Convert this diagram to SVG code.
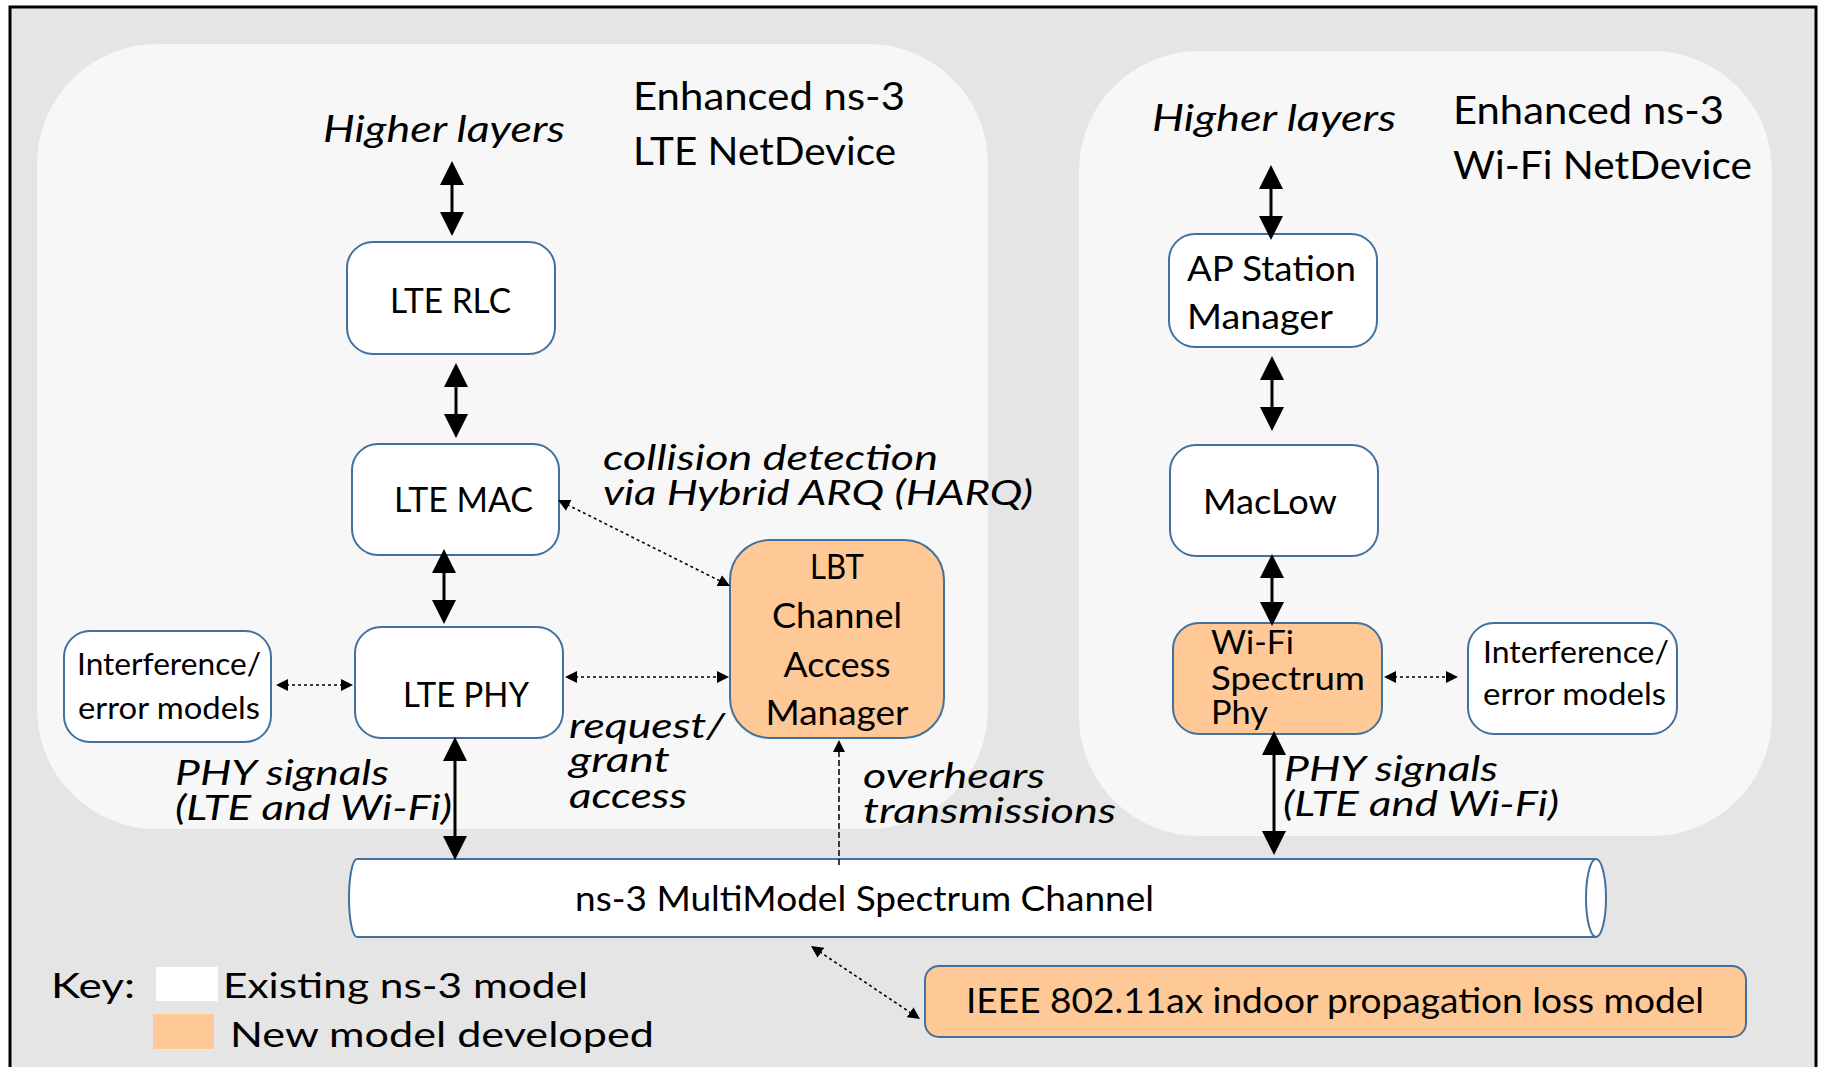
<svg xmlns="http://www.w3.org/2000/svg" width="1822" height="1067" viewBox="0 0 1822 1067">
<style>
.t{font-family:Lato,'Open Sans','Liberation Sans',sans-serif;fill:#000}
.i{font-style:italic}
.box{fill:#fff;stroke:#41719c;stroke-width:2}
.new{fill:#fec996;stroke:#41719c;stroke-width:2}
.cont{fill:#f7f7f7}
.solid{stroke:#000;stroke-width:3;fill:none}
.dot{stroke:#000;stroke-width:1.6;stroke-dasharray:3 3;fill:none}
.dash{stroke:#000;stroke-width:1.5;stroke-dasharray:6 3;fill:none}
</style>
<defs>
<marker id="ah" viewBox="0 0 24 24" markerWidth="24" markerHeight="24" refX="4" refY="12" orient="auto-start-reverse" markerUnits="userSpaceOnUse"><path d="M0,0 L24,12 L0,24 z" fill="#000"/></marker>
<marker id="sh" viewBox="0 0 12 12" markerWidth="12" markerHeight="12" refX="2" refY="6" orient="auto-start-reverse" markerUnits="userSpaceOnUse"><path d="M0,0 L12,6 L0,12 z" fill="#000"/></marker>
</defs>
<rect x="0" y="0" width="1822" height="1067" fill="#fff"/>
<rect x="10" y="7" width="1806" height="1090" fill="#e5e5e5" stroke="#000" stroke-width="3"/>

<g id="lte-container">
<rect class="cont" x="37" y="44" width="951" height="785" rx="120" ry="120"/>
<text class="t i" x="323" y="142" font-size="36" textLength="242" lengthAdjust="spacingAndGlyphs">Higher layers</text>
<text class="t" x="633" y="110" font-size="38" textLength="272" lengthAdjust="spacingAndGlyphs">Enhanced ns-3</text>
<text class="t" x="633" y="165" font-size="38" textLength="263" lengthAdjust="spacingAndGlyphs">LTE NetDevice</text>
</g>
<g id="wifi-container">
<rect class="cont" x="1079" y="51" width="693" height="785" rx="120" ry="120"/>
<text class="t i" x="1152" y="131" font-size="36" textLength="244" lengthAdjust="spacingAndGlyphs">Higher layers</text>
<text class="t" x="1453" y="124" font-size="38" textLength="271" lengthAdjust="spacingAndGlyphs">Enhanced ns-3</text>
<text class="t" x="1453" y="179" font-size="38" textLength="299" lengthAdjust="spacingAndGlyphs">Wi-Fi NetDevice</text>
</g>

<g id="lte-rlc">
<rect class="box" x="347" y="242" width="208" height="112" rx="26"/>
<text class="t" x="390" y="313" font-size="34" textLength="121" lengthAdjust="spacingAndGlyphs">LTE RLC</text>
</g>
<g id="lte-mac">
<rect class="box" x="352" y="444" width="207" height="111" rx="26"/>
<text class="t" x="394" y="512" font-size="34" textLength="139" lengthAdjust="spacingAndGlyphs">LTE MAC</text>
</g>
<g id="lte-phy">
<rect class="box" x="355" y="627" width="208" height="111" rx="26"/>
<text class="t" x="403" y="707" font-size="34" textLength="126" lengthAdjust="spacingAndGlyphs">LTE PHY</text>
</g>
<g id="lte-interference">
<rect class="box" x="64" y="631" width="207" height="111" rx="26"/>
<text class="t" x="77" y="675" font-size="30" textLength="184" lengthAdjust="spacingAndGlyphs">Interference/</text>
<text class="t" x="78" y="719" font-size="30" textLength="182" lengthAdjust="spacingAndGlyphs">error models</text>
</g>
<g id="lbt">
<rect class="new" x="730" y="540" width="214" height="198" rx="40"/>
<text class="t" x="837" y="579" font-size="34" text-anchor="middle" textLength="54" lengthAdjust="spacingAndGlyphs">LBT</text>
<text class="t" x="837" y="628" font-size="34" text-anchor="middle" textLength="130" lengthAdjust="spacingAndGlyphs">Channel</text>
<text class="t" x="837" y="677" font-size="34" text-anchor="middle" textLength="107" lengthAdjust="spacingAndGlyphs">Access</text>
<text class="t" x="837" y="725" font-size="34" text-anchor="middle" textLength="143" lengthAdjust="spacingAndGlyphs">Manager</text>
</g>

<g id="ap-station-manager">
<rect class="box" x="1169" y="234" width="208" height="113" rx="26"/>
<text class="t" x="1187" y="281" font-size="34" textLength="169" lengthAdjust="spacingAndGlyphs">AP Station</text>
<text class="t" x="1187" y="329" font-size="34" textLength="146" lengthAdjust="spacingAndGlyphs">Manager</text>
</g>
<g id="maclow">
<rect class="box" x="1170" y="445" width="208" height="111" rx="26"/>
<text class="t" x="1203" y="514" font-size="34" textLength="134" lengthAdjust="spacingAndGlyphs">MacLow</text>
</g>
<g id="wifi-spectrum-phy">
<rect class="new" x="1173" y="623" width="209" height="111" rx="26"/>
<text class="t" x="1211" y="654" font-size="32" textLength="83" lengthAdjust="spacingAndGlyphs">Wi-Fi</text>
<text class="t" x="1211" y="690" font-size="32" textLength="154" lengthAdjust="spacingAndGlyphs">Spectrum</text>
<text class="t" x="1211" y="724" font-size="32" textLength="57" lengthAdjust="spacingAndGlyphs">Phy</text>
</g>
<g id="wifi-interference">
<rect class="box" x="1468" y="623" width="209" height="111" rx="26"/>
<text class="t" x="1483" y="663" font-size="30" textLength="186" lengthAdjust="spacingAndGlyphs">Interference/</text>
<text class="t" x="1483" y="705" font-size="30" textLength="183" lengthAdjust="spacingAndGlyphs">error models</text>
</g>

<g id="channel">
<path class="box" d="M357,859 H1596 V937 H357 A8,39 0 0 1 357,859 Z"/>
<ellipse class="box" cx="1596" cy="898" rx="10" ry="39"/>
<text class="t" x="575" y="911" font-size="35" textLength="579" lengthAdjust="spacingAndGlyphs">ns-3 MultiModel Spectrum Channel</text>
</g>
<g id="ieee-loss-model">
<rect class="new" x="925" y="966" width="821" height="71" rx="14"/>
<text class="t" x="966" y="1013" font-size="35" textLength="738" lengthAdjust="spacingAndGlyphs">IEEE 802.11ax indoor propagation loss model</text>
</g>

<g id="connectors">
<line class="solid" x1="452" y1="181" x2="452" y2="216" marker-start="url(#ah)" marker-end="url(#ah)"/>
<line class="solid" x1="456" y1="383" x2="456" y2="418" marker-start="url(#ah)" marker-end="url(#ah)"/>
<line class="solid" x1="444" y1="569" x2="444" y2="604" marker-start="url(#ah)" marker-end="url(#ah)"/>
<line class="solid" x1="455" y1="757" x2="455" y2="840" marker-start="url(#ah)" marker-end="url(#ah)"/>
<line class="solid" x1="1271" y1="185" x2="1271" y2="220" marker-start="url(#ah)" marker-end="url(#ah)"/>
<line class="solid" x1="1272" y1="376" x2="1272" y2="411" marker-start="url(#ah)" marker-end="url(#ah)"/>
<line class="solid" x1="1272" y1="574" x2="1272" y2="606" marker-start="url(#ah)" marker-end="url(#ah)"/>
<line class="solid" x1="1274" y1="751" x2="1274" y2="835" marker-start="url(#ah)" marker-end="url(#ah)"/>
<line class="dot" x1="286" y1="685" x2="343" y2="685" marker-start="url(#sh)" marker-end="url(#sh)"/>
<line class="dot" x1="575" y1="677" x2="719" y2="677" marker-start="url(#sh)" marker-end="url(#sh)"/>
<line class="dot" x1="566.9" y1="504.5" x2="721.1" y2="581.5" marker-start="url(#sh)" marker-end="url(#sh)"/>
<line class="dot" x1="1394" y1="677" x2="1448" y2="677" marker-start="url(#sh)" marker-end="url(#sh)"/>
<line class="dot" x1="819.3" y1="951.6" x2="911.7" y2="1013.4" marker-start="url(#sh)" marker-end="url(#sh)"/>
<line class="dash" x1="839" y1="865" x2="839" y2="750" marker-end="url(#sh)"/>
</g>

<g id="labels">
<text class="t i" x="603" y="470" font-size="34" textLength="335" lengthAdjust="spacingAndGlyphs">collision detection</text>
<text class="t i" x="603" y="505" font-size="34" textLength="430" lengthAdjust="spacingAndGlyphs">via Hybrid ARQ (HARQ)</text>
<text class="t i" x="569" y="738" font-size="34" textLength="156" lengthAdjust="spacingAndGlyphs">request/</text>
<text class="t i" x="569" y="772" font-size="34" textLength="101" lengthAdjust="spacingAndGlyphs">grant</text>
<text class="t i" x="569" y="808" font-size="34" textLength="118" lengthAdjust="spacingAndGlyphs">access</text>
<text class="t i" x="175" y="785" font-size="34" textLength="214" lengthAdjust="spacingAndGlyphs">PHY signals</text>
<text class="t i" x="175" y="820" font-size="34" textLength="277" lengthAdjust="spacingAndGlyphs">(LTE and Wi-Fi)</text>
<text class="t i" x="863" y="788" font-size="34" textLength="182" lengthAdjust="spacingAndGlyphs">overhears</text>
<text class="t i" x="863" y="823" font-size="34" textLength="253" lengthAdjust="spacingAndGlyphs">transmissions</text>
<text class="t i" x="1284" y="781" font-size="34" textLength="214" lengthAdjust="spacingAndGlyphs">PHY signals</text>
<text class="t i" x="1283" y="816" font-size="34" textLength="276" lengthAdjust="spacingAndGlyphs">(LTE and Wi-Fi)</text>
</g>

<g id="key">
<text class="t" x="51" y="998" font-size="35" textLength="84" lengthAdjust="spacingAndGlyphs">Key:</text>
<rect x="156" y="967" width="62" height="34" fill="#fff"/>
<text class="t" x="223" y="998" font-size="35" textLength="365" lengthAdjust="spacingAndGlyphs">Existing ns-3 model</text>
<rect x="153" y="1014" width="61" height="35" fill="#fec996"/>
<text class="t" x="230" y="1047" font-size="35" textLength="424" lengthAdjust="spacingAndGlyphs">New model developed</text>
</g>
</svg>
